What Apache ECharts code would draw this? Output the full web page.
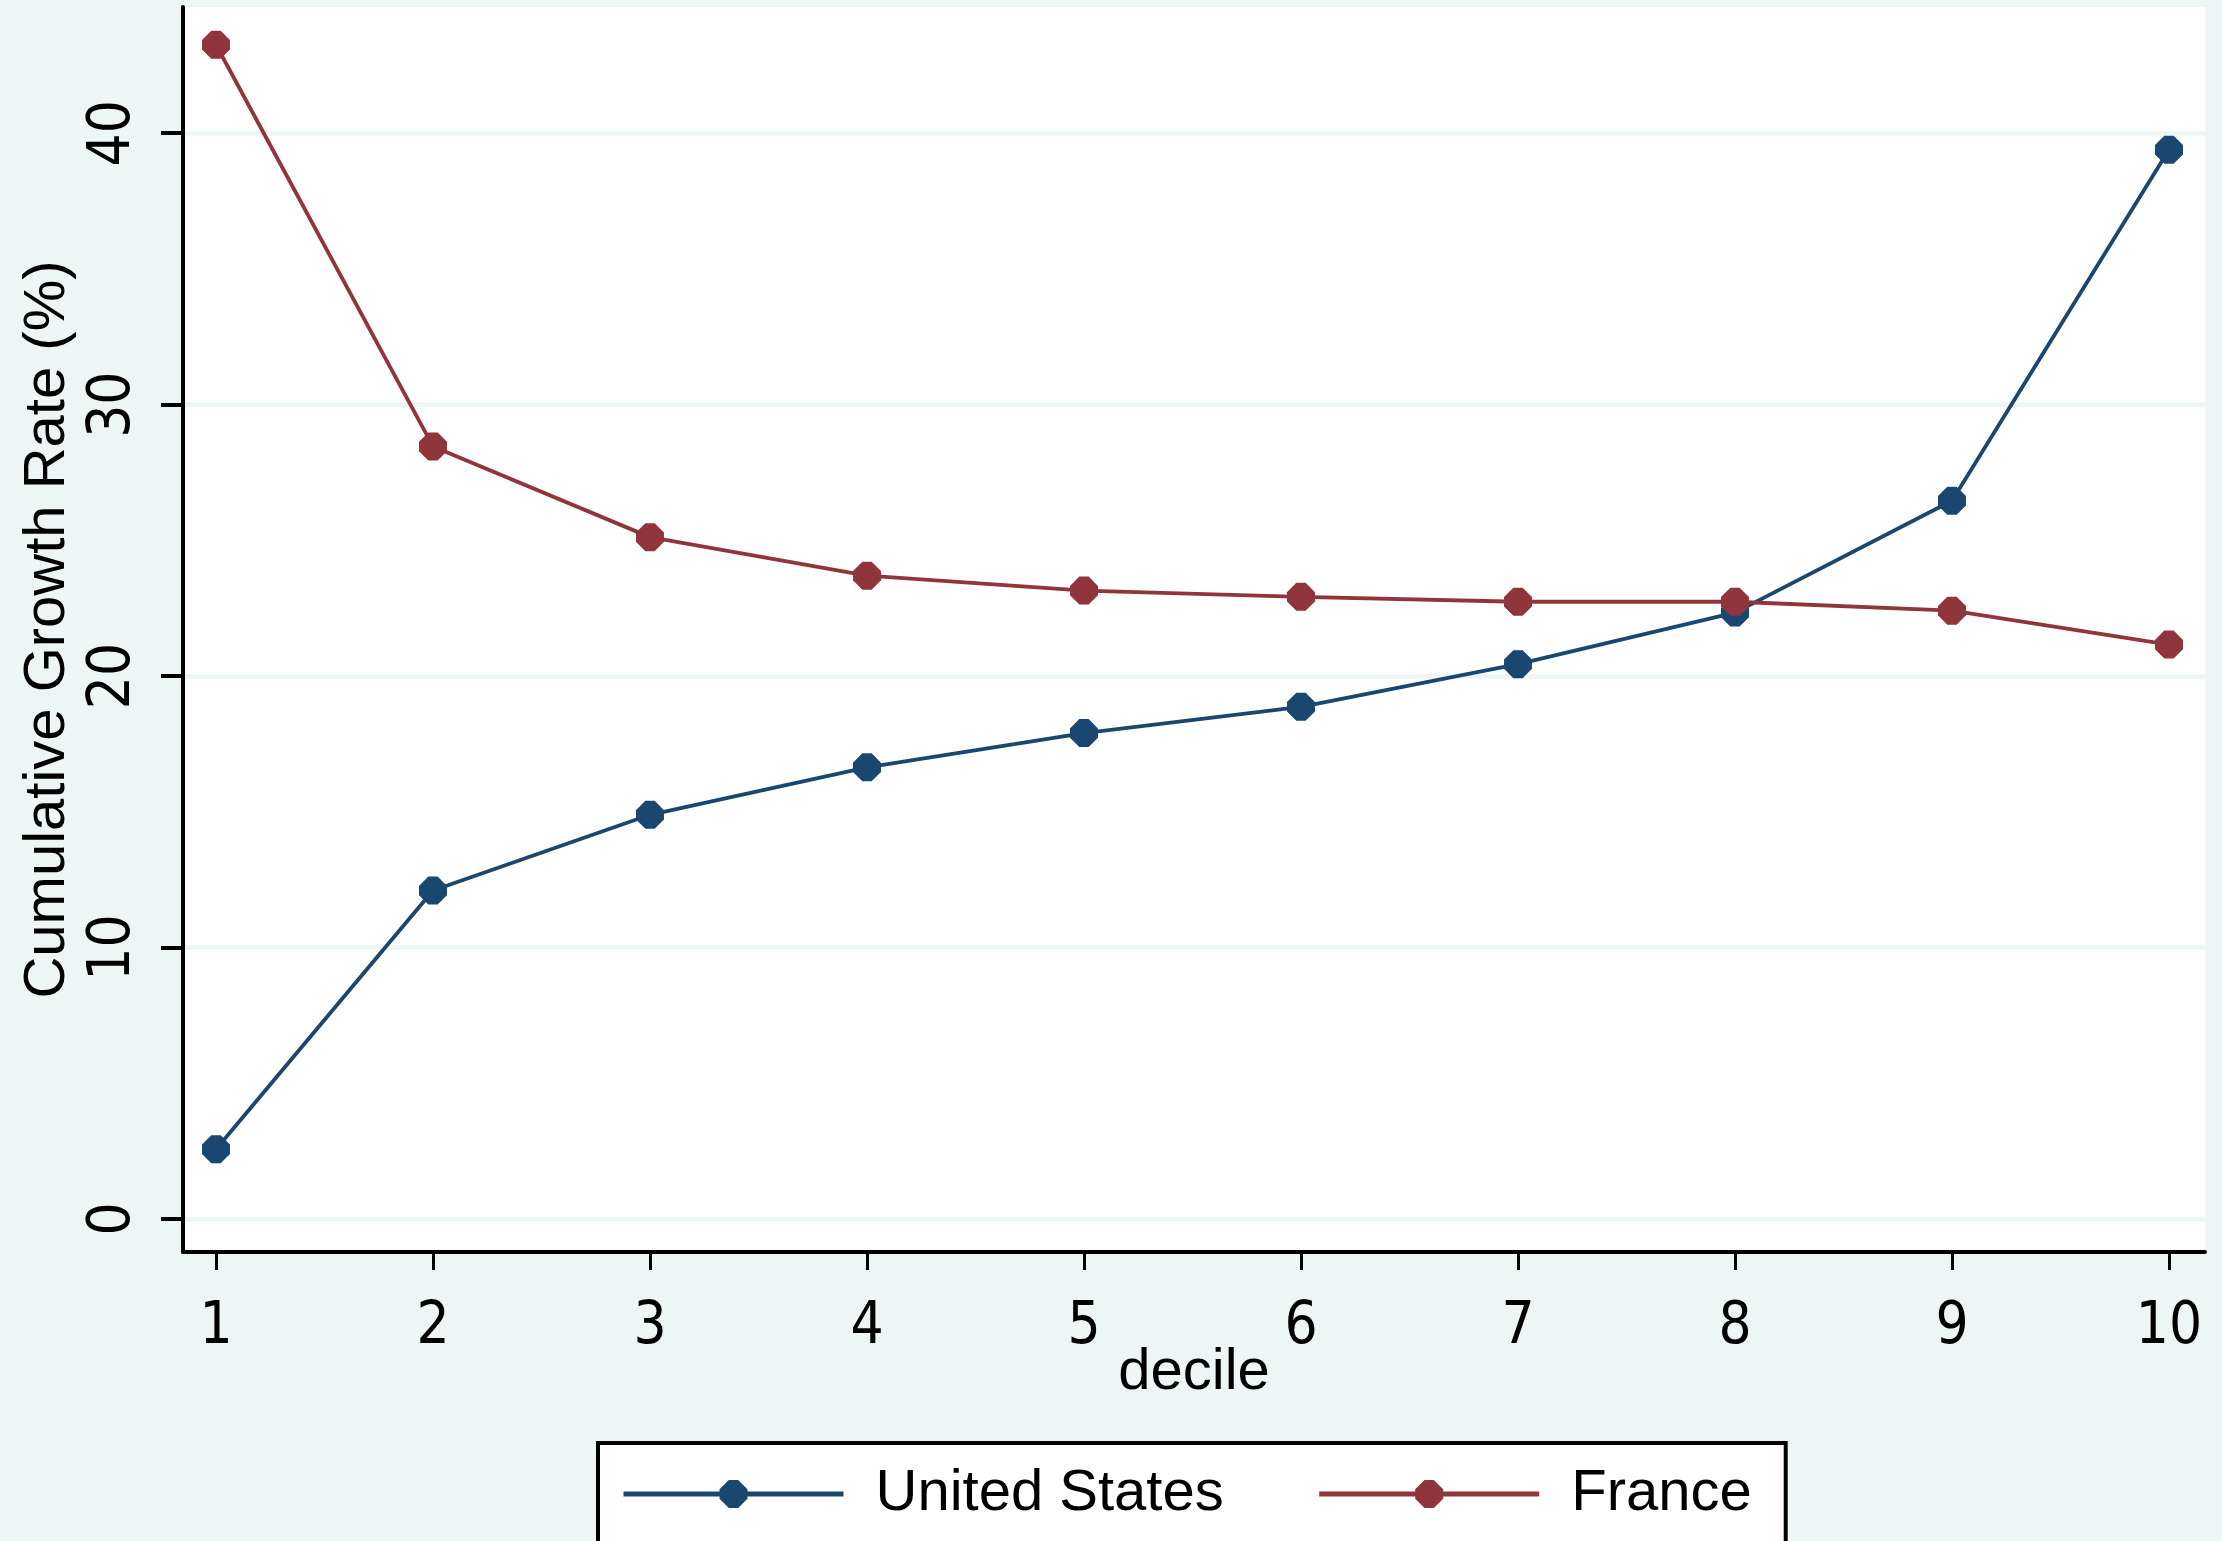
<!DOCTYPE html>
<html>
<head>
<meta charset="utf-8">
<script src="https://cdn.jsdelivr.net/npm/echarts@6/dist/echarts.min.js"></script>
<style>
html,body{margin:0;padding:0;background:#EEF6F5;}
#chart{width:2222px;height:1541px;}
</style>
</head>
<body>
<div id="chart"></div>
<script>
const deciles = [1, 2, 3, 4, 5, 6, 7, 8, 9, 10];
const unitedStates = [2.57, 12.1, 14.89, 16.64, 17.9, 18.87, 20.44, 22.34, 26.46, 39.39];
const france = [43.26, 28.46, 25.12, 23.7, 23.15, 22.92, 22.74, 22.74, 22.41, 21.16];
const yTicks = [0, 10, 20, 30, 40];
const seriesNames = ['United States', 'France'];

const NAVY = '#1A476F';
const MAROON = '#90353B';
const BG = '#EEF6F5';
const textFont = "'Liberation Sans', Arial, sans-serif";
const tickFont = "'Liberation Sans Narrow', 'DejaVu Sans Condensed', 'Liberation Sans', sans-serif";
const marker = 'path://M2,0 L4,0 L6,2 L6,4 L4,6 L2,6 L0,4 L0,2 Z';

const chart = echarts.init(document.getElementById('chart'), null, {renderer: 'canvas'});

function mkSeries(name, vals, color) {
  return {
    name: name,
    type: 'line',
    data: deciles.map((d, i) => [d, vals[i]]),
    symbol: marker,
    symbolSize: 28,
    showSymbol: true,
    lineStyle: {color: color, width: 3.8},
    itemStyle: {color: color},
    emphasis: {disabled: true},
    animation: false
  };
}

chart.setOption({
  backgroundColor: BG,
  animation: false,
  grid: {
    left: 183, right: 17, top: 7, bottom: 289,
    show: true, backgroundColor: '#ffffff', borderWidth: 0
  },
  xAxis: {
    type: 'value',
    min: 0.848, max: 10.166,
    name: 'decile',
    nameLocation: 'middle',
    nameGap: 92,
    nameMoveOverlap: false,
    nameTextStyle: {fontFamily: textFont, fontSize: 58, color: '#000'},
    axisLine: {show: true, onZero: false, lineStyle: {color: '#000', width: 4}},
    axisTick: {show: true, length: 18, customValues: deciles, lineStyle: {color: '#000', width: 3}},
    axisLabel: {show: true, customValues: deciles, margin: 47, fontFamily: tickFont, fontSize: 58, color: '#000'},
    splitLine: {show: false}
  },
  yAxis: {
    type: 'value',
    min: -1.216, max: 44.65,
    name: 'Cumulative Growth Rate (%)',
    nameLocation: 'middle',
    nameGap: 99,
    nameTextStyle: {fontFamily: textFont, fontSize: 58, color: '#000'},
    axisLine: {show: true, onZero: false, lineStyle: {color: '#000', width: 4}},
    axisTick: {show: true, length: 22, customValues: yTicks, lineStyle: {color: '#000', width: 4}},
    axisLabel: {show: true, customValues: yTicks, rotate: 90, margin: 40, fontFamily: tickFont, fontSize: 58, color: '#000'},
    splitLine: {show: true, lineStyle: {color: BG, width: 4.5}}
  },
  legend: {
    data: seriesNames,
    left: 598, top: 1443,
    orient: 'horizontal',
    backgroundColor: '#ffffff',
    borderColor: '#000',
    borderWidth: 4,
    padding: [22, 34, 40, 23],
    itemWidth: 220,
    itemHeight: 35,
    itemGap: 93,
    selectedMode: false,
    lineStyle: {width: 5},
    textStyle: {fontFamily: textFont, fontSize: 58, color: '#000', padding: [0, 0, 0, 27]}
  },
  series: [
    mkSeries(seriesNames[0], unitedStates, NAVY),
    mkSeries(seriesNames[1], france, MAROON)
  ]
});
</script>
</body>
</html>
